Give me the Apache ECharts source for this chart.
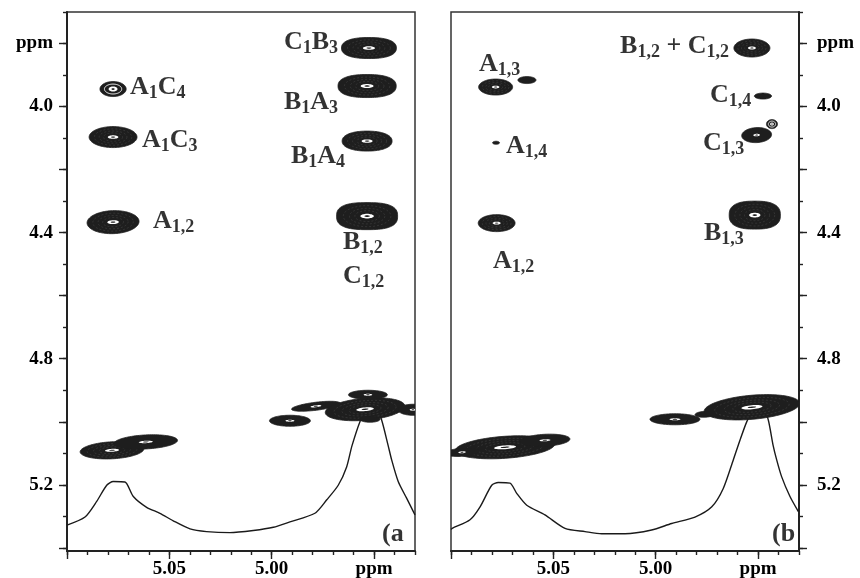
<!DOCTYPE html>
<html><head><meta charset="utf-8">
<script src="https://cdn.jsdelivr.net/npm/echarts@6/dist/echarts.min.js"></script>
<style>html,body{margin:0;padding:0;background:#fff}#c{width:860px;height:578px}</style>
</head><body><div id="c"></div>
<script>
// ---------- axis ranges & ticks (ppm) ----------
const xMin = 4.93, xMax = 5.10;
const yMin = 3.70, yMax = 5.41;
const xMinorTicks = [5.10,5.09,5.08,5.07,5.06,5.05,5.04,5.03,5.02,5.01,5.00,4.99,4.98,4.97,4.96,4.95,4.94,4.93];
const xMajorTicks = [5.10,5.05,5.00,4.95];
const xTickLabels = [5.05,5.00,4.95];           // 4.95 is printed as "ppm"
const yMinorTicks = [3.7,3.8,3.9,4.0,4.1,4.2,4.3,4.4,4.5,4.6,4.7,4.8,4.9,5.0,5.1,5.2,5.3,5.4];
const yMajorTicks = [3.8,4.0,4.2,4.4,4.6,4.8,5.0,5.2,5.4];
const yTickLabels = [3.8,4.0,4.4,4.8,5.2];      // 3.8 is printed as "ppm"

// ---------- cross peaks: [x ppm, y ppm, half-width x, half-width y, tilt deg, squareness] ----------
const peaksA = [
 [5.0775, 3.9444, 0.0064, 0.0238, 0, 2],
 [5.0775, 4.0968, 0.0117, 0.0333, 0, 2],
 [5.0775, 4.3667, 0.0127, 0.0365, 2, 2],
 [4.9525, 3.8143, 0.0134, 0.0333, 0, 2.4],
 [4.9534, 3.9349, 0.0142, 0.0365, 0, 2.4],
 [4.9534, 4.1095, 0.0122, 0.0317, 0, 2.2],
 [4.9534, 4.3476, 0.0149, 0.0429, 0, 2.7],
 [5.0780, 5.0905, 0.0156, 0.0270, 3, 2],
 [5.0615, 5.0640, 0.0155, 0.0222, 3, 2],
 [4.9911, 4.9968, 0.0100, 0.0175, 0, 2],
 [4.9784, 4.9508, 0.0120, 0.0127, 7, 2],
 [4.9544, 4.9603, 0.0195, 0.0349, 5, 2],
 [4.9530, 4.9143, 0.0095, 0.0143, 0, 2],
 [4.9520, 4.9921, 0.0049, 0.0095, 0, 2],
 [4.9310, 4.9619, 0.0073, 0.0175, 0, 2]
];
const peaksB = [
 [5.0782, 3.9381, 0.0083, 0.0254, 0, 2],
 [5.0629, 3.9159, 0.0044, 0.0111, 0, 2],
 [5.0780, 4.1149, 0.0017, 0.0048, 0, 2],
 [5.0777, 4.3698, 0.0090, 0.0270, 0, 2],
 [4.9530, 3.8143, 0.0088, 0.0286, 0, 2],
 [4.9476, 3.9667, 0.0042, 0.0095, 0, 2],
 [4.9507, 4.0905, 0.0073, 0.0238, 3, 2],
 [4.9432, 4.0556, 0.0027, 0.0143, 0, 2],
 [4.9516, 4.3444, 0.0125, 0.0444, 0, 2.6],
 [5.0736, 5.0810, 0.0244, 0.0349, 4, 2],
 [5.0541, 5.0587, 0.0122, 0.0190, 3, 2],
 [5.0946, 5.0968, 0.0083, 0.0127, 4, 2],
 [4.9906, 4.9921, 0.0122, 0.0175, 0, 2],
 [4.9759, 4.9762, 0.0049, 0.0095, 3, 2],
 [4.9530, 4.9540, 0.0234, 0.0381, 5, 2]
];

// ---------- 1D projections: [ppm, intensity 0-100] ----------
const traceA = [[5.100,4.8],[5.0912,6.3],[5.0855,9.2],[5.0806,12.2],[5.0774,12.9],[5.0717,12.8],[5.0676,10.1],[5.0611,8.1],[5.0546,7.0],[5.0481,5.6],[5.0399,4.1],[5.0318,3.6],[5.0204,3.4],[5.0090,3.8],[4.9992,4.4],[4.9911,5.4],[4.9789,7.0],[4.9731,9.5],[4.9675,12.2],[4.9634,15.6],[4.9608,19.5],[4.9569,24.0],[4.9530,27.1],[4.9495,27.3],[4.9463,24.3],[4.9432,19.7],[4.9414,16.9],[4.9382,12.9],[4.9341,9.8],[4.9308,7.3],[4.9300,6.7]];
const traceB = [[5.100,4.0],[5.0994,4.2],[5.0907,5.8],[5.0858,8.2],[5.0801,12.2],[5.0769,12.7],[5.0712,12.6],[5.0679,10.7],[5.0630,8.5],[5.0541,6.7],[5.0443,4.2],[5.0345,3.6],[5.0264,3.2],[5.0150,3.2],[5.0020,3.9],[4.9922,5.1],[4.9808,6.3],[4.9726,8.2],[4.9670,11.6],[4.9621,16.9],[4.9588,20.6],[4.9555,24.0],[4.9515,27.1],[4.9480,27.3],[4.9450,24.3],[4.9427,19.7],[4.9409,16.9],[4.9385,13.8],[4.9344,10.1],[4.9303,7.3]];

// ---------- labels: [x ppm, y ppm, text] ("_" starts a subscript) ----------
const labelsA = [
 [5.0692, 3.9397, 'A_1C_4'],
 [5.0634, 4.1063, 'A_1C_3'],
 [5.0580, 4.3651, 'A_1,2'],
 [4.9940, 3.7968, 'C_1B_3'],
 [4.9940, 3.9873, 'B_1A_3'],
 [4.9906, 4.1571, 'B_1A_4'],
 [4.9652, 4.4317, 'B_1,2'],
 [4.9652, 4.5381, 'C_1,2'],
 [4.9461, 5.3571, '(a']
];
const labelsB = [
 [5.0863, 3.8667, 'A_1,3'],
 [5.0731, 4.1254, 'A_1,4'],
 [5.0795, 4.4921, 'A_1,2'],
 [5.0174, 3.8095, 'B_1,2 + C_1,2'],
 [4.9735, 3.9635, 'C_1,4'],
 [4.9769, 4.1175, 'C_1,3'],
 [4.9764, 4.4032, 'B_1,3'],
 [4.9432, 5.3571, '(b']
];

// ---------- drawing ----------
const FONT = 'Liberation Serif';
const INK = '#1e1e1e';
function toRich(t){
  const parts = t.split(/_([0-9,]+)/);
  let out = '';
  parts.forEach((p,i)=>{ if(p==='') return; out += (i%2===0 ? '{m|' : '{s|') + p + '}'; });
  return out;
}
function ellipsePts(cx, cy, rx, ry, rot, n, N){
  const pts=[], cr=Math.cos(rot), sr=Math.sin(rot);
  for(let i=0;i<N;i++){
    const t=i/N*2*Math.PI, ct=Math.cos(t), st=Math.sin(t);
    const ex=Math.sign(ct)*Math.pow(Math.abs(ct),2/n)*rx;
    const ey=Math.sign(st)*Math.pow(Math.abs(st),2/n)*ry;
    pts.push([cx+ex*cr+ey*sr, cy-ex*sr+ey*cr]);
  }
  return pts;
}
function renderBlob(params, api){
  const x=api.value(0), y=api.value(1);
  const c=api.coord([x,y]);
  const s=api.size([api.value(2), api.value(3)],[x,y]);
  const rx=Math.abs(s[0]), ry=Math.abs(s[1]);
  const rot=api.value(4)*Math.PI/180, n=api.value(5)||2;
  const kids=[{type:'polygon', shape:{points:ellipsePts(c[0],c[1],rx,ry,rot,n,96)}, style:{fill:INK, stroke:INK, lineWidth:0.8}}];
  const ringy = rx*2<=28 && ry*2>=7;
  if (ringy){
    kids.push({type:'polygon', shape:{points:ellipsePts(c[0],c[1],rx*0.66,ry*0.66,rot,2,60)}, style:{fill:'none', stroke:'#f0f0f0', lineWidth:1}});
    kids.push({type:'polygon', shape:{points:ellipsePts(c[0],c[1],rx*0.34,ry*0.34,rot,2,40)}, style:{fill:'#fff'}});
    kids.push({type:'polygon', shape:{points:ellipsePts(c[0],c[1],rx*0.12,ry*0.12,rot,2,24)}, style:{fill:INK}});
  } else if (ry>=3.5){
    if (ry>=8){
      [0.78,0.58,0.4].forEach(k=>kids.push({type:'polygon', shape:{points:ellipsePts(c[0],c[1],rx*k,ry*k,rot,2,72)}, style:{fill:'none', stroke:'rgba(255,255,255,0.16)', lineWidth:0.6, lineDash:[2,2]}}));
    }
    kids.push({type:'polygon', shape:{points:ellipsePts(c[0],c[1],Math.max(2,rx*0.22),Math.max(1,ry*0.17),rot,2,36)}, style:{fill:'#fff'}});
    kids.push({type:'polygon', shape:{points:ellipsePts(c[0],c[1],Math.max(1,rx*0.09),Math.max(0.5,ry*0.06),rot,2,24)}, style:{fill:INK}});
  }
  return {type:'group', children:kids};
}

const fmtX = v => Math.abs(v-4.95)<1e-6 ? 'ppm' : v.toFixed(2);
const fmtY = v => Math.abs(v-3.8)<1e-6 ? 'ppm' : v.toFixed(1);
const labelFont = {color:'#000', fontFamily:FONT, fontWeight:'bold', fontSize:19};

function xAxes(g){
  return [
    {type:'value', gridIndex:g, inverse:true, min:xMin, max:xMax, position:'bottom',
     axisLine:{show:true, onZero:false, lineStyle:{color:'#222', width:2}},
     axisTick:{show:true, inside:false, length:4, customValues:xMinorTicks, lineStyle:{color:'#222', width:1.4}},
     axisLabel:Object.assign({show:true, customValues:xTickLabels, formatter:fmtX, margin:9}, labelFont),
     splitLine:{show:false}},
    {type:'value', gridIndex:g, inverse:true, min:xMin, max:xMax, position:'bottom',
     axisLine:{show:false}, axisTick:{show:true, inside:false, length:8, customValues:xMajorTicks, lineStyle:{color:'#222', width:1.4}},
     axisLabel:{show:false}, splitLine:{show:false}}
  ];
}
function yAxes(g, pos, margin){
  return [
    {type:'value', gridIndex:g, inverse:true, min:yMin, max:yMax, position:pos,
     axisLine:{show:true, onZero:false, lineStyle:{color:'#222', width:2}},
     axisTick:{show:true, inside:false, length:4, customValues:yMinorTicks, lineStyle:{color:'#222', width:1.4}},
     axisLabel:Object.assign({show:true, customValues:yTickLabels, formatter:fmtY, margin:margin}, labelFont),
     splitLine:{show:false}},
    {type:'value', gridIndex:g, inverse:true, min:yMin, max:yMax, position:pos,
     axisLine:{show:false}, axisTick:{show:true, inside:false, length:8, customValues:yMajorTicks, lineStyle:{color:'#222', width:1.4}},
     axisLabel:{show:false}, splitLine:{show:false}},
    {type:'value', gridIndex:g, min:0, max:100, show:false, splitLine:{show:false}}
  ];
}
const rich = {
  m:{fontFamily:FONT, fontWeight:'bold', fontSize:26, lineHeight:30, color:'#000'},
  s:{fontFamily:FONT, fontWeight:'bold', fontSize:18, lineHeight:18, padding:[12,0,0,0], color:'#000'}
};
function panelSeries(xi, yi, trace, peaks, labels){
  return [
    {type:'line', xAxisIndex:xi, yAxisIndex:yi+2, data:trace, showSymbol:false, smooth:0.25, z:2,
     lineStyle:{color:'#1a1a1a', width:1.4}, silent:true},
    {type:'custom', xAxisIndex:xi, yAxisIndex:yi, data:peaks, renderItem:renderBlob, clip:true, z:3,
     encode:{x:0, y:1}, silent:true},
    {type:'scatter', xAxisIndex:xi, yAxisIndex:yi, data:labels.map(l=>[l[0], l[1]]), symbolSize:0, z:4, silent:true,
     label:{show:true, position:'right', distance:0, formatter:p=>toRich(labels[p.dataIndex][2]), rich:rich}}
  ];
}

const chart = echarts.init(document.getElementById('c'), null, {renderer:'canvas'});
chart.setOption({
  animation:false,
  backgroundColor:'#fff',
  grid:[
    {left:67, top:12, width:348, height:539, show:true, borderColor:'#333', borderWidth:1.5, containLabel:false, outerBoundsMode:'none'},
    {left:451, top:12, width:348, height:539, show:true, borderColor:'#333', borderWidth:1.5, containLabel:false, outerBoundsMode:'none'}
  ],
  xAxis:[].concat(xAxes(0), xAxes(1)),
  yAxis:[].concat(yAxes(0,'left',14), yAxes(1,'right',18)),
  series:[].concat(
    panelSeries(0, 0, traceA, peaksA, labelsA),
    panelSeries(2, 3, traceB, peaksB, labelsB)
  )
});
</script></body></html>
